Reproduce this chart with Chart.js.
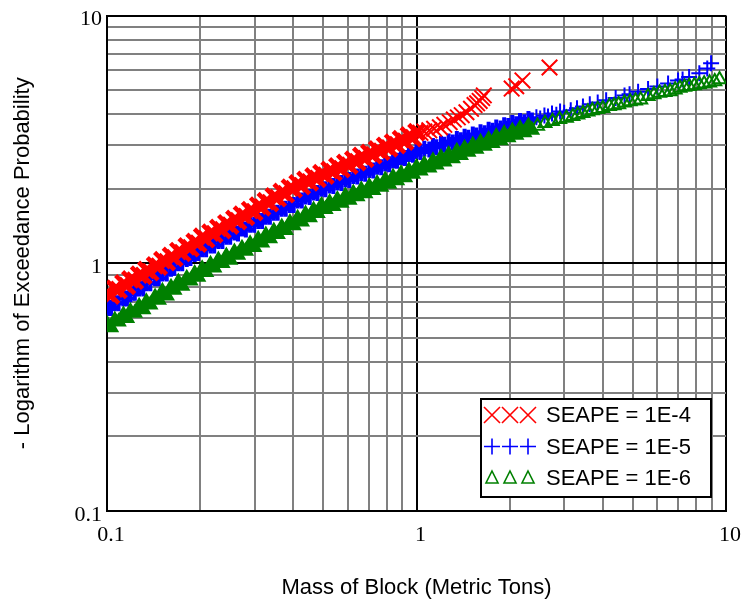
<!DOCTYPE html>
<html>
<head>
<meta charset="utf-8">
<script src="https://cdn.jsdelivr.net/npm/chart.js@4/dist/chart.umd.min.js"></script>
<style>
  body { margin: 0; background: #fff; }
  canvas { display: block; }
</style>
</head>
<body>
<canvas id="myChart" width="743" height="602"></canvas>
<script>
// block mass (metric tons), dense part shared by all three curves
const lowMass = [0.100, 0.103, 0.106, 0.109, 0.113, 0.116, 0.119, 0.123, 0.127, 0.131,
    0.134, 0.138, 0.143, 0.147, 0.151, 0.156, 0.161, 0.165, 0.170, 0.175,
    0.181, 0.186, 0.192, 0.197, 0.203, 0.209, 0.216, 0.222, 0.229, 0.236,
    0.243, 0.250, 0.258, 0.265, 0.273, 0.281, 0.290, 0.299, 0.308, 0.317,
    0.326, 0.336, 0.346, 0.356, 0.367, 0.378, 0.390, 0.401, 0.413, 0.426,
    0.438, 0.452, 0.465, 0.479, 0.493, 0.508, 0.524, 0.539, 0.555, 0.572,
    0.589, 0.607, 0.625, 0.644, 0.663, 0.683, 0.704, 0.725, 0.746, 0.769,
    0.792, 0.816, 0.840, 0.865, 0.891, 0.918, 0.945, 0.974, 1.00];
// block mass between 1 and 2.4 t, shared by the 1E-5 and 1E-6 curves
const midMass = [1.03, 1.06, 1.10, 1.13, 1.16, 1.20, 1.23, 1.27, 1.31, 1.35,
    1.39, 1.43, 1.47, 1.52, 1.56, 1.61, 1.66, 1.71, 1.76, 1.81,
    1.87, 1.92, 1.98, 2.04, 2.10, 2.16, 2.23, 2.30, 2.36];

// SEAPE = 1E-4
const redTailMass = [1.03, 1.06, 1.10, 1.14, 1.19, 1.23, 1.28, 1.32, 1.36, 1.40,
    1.45, 1.50, 1.54, 1.57, 1.60, 1.63, 1.65, 2.03, 2.10, 2.20, 2.69];
const redLogProb = [0.76, 0.74, 0.79, 0.78, 0.83, 0.81, 0.86, 0.85, 0.90, 0.89,
    0.94, 0.92, 0.98, 0.97, 1.03, 1.01, 1.07, 1.05, 1.12, 1.10,
    1.17, 1.15, 1.22, 1.20, 1.28, 1.25, 1.33, 1.31, 1.39, 1.36,
    1.45, 1.42, 1.51, 1.48, 1.57, 1.54, 1.64, 1.61, 1.71, 1.68,
    1.78, 1.75, 1.86, 1.83, 1.94, 1.90, 2.02, 1.99, 2.10, 2.05,
    2.17, 2.12, 2.24, 2.19, 2.31, 2.26, 2.38, 2.33, 2.46, 2.40,
    2.54, 2.48, 2.62, 2.56, 2.71, 2.64, 2.79, 2.73, 2.88, 2.82,
    2.98, 2.91, 3.07, 3.00, 3.17, 3.10, 3.28, 3.20, 3.38,
    3.36, 3.40, 3.44, 3.49, 3.54, 3.62, 3.71, 3.80, 3.88, 3.96,
    4.07, 4.20, 4.35, 4.42, 4.52, 4.64, 4.76, 5.07, 5.18, 5.47, 6.17];

// SEAPE = 1E-5
const blueTailMass = [2.44, 2.51, 2.59, 2.66, 2.74, 2.83, 2.91, 3.00,
    3.15, 3.30, 3.45, 3.63, 3.85, 4.10, 4.40, 4.70, 4.88, 5.20,
    5.60, 6.00, 6.50, 7.00, 7.24, 7.60, 8.20, 8.70, 8.95];
const blueLogProb = [0.66, 0.66, 0.69, 0.69, 0.72, 0.72, 0.75, 0.76, 0.79, 0.79,
    0.83, 0.83, 0.87, 0.87, 0.91, 0.91, 0.95, 0.96, 1.00, 1.00,
    1.04, 1.05, 1.09, 1.10, 1.14, 1.14, 1.18, 1.18, 1.23, 1.23,
    1.28, 1.28, 1.33, 1.32, 1.38, 1.37, 1.43, 1.43, 1.48, 1.48,
    1.54, 1.54, 1.60, 1.60, 1.66, 1.66, 1.72, 1.72, 1.79, 1.79,
    1.86, 1.85, 1.93, 1.92, 2.00, 1.99, 2.06, 2.05, 2.12, 2.11,
    2.18, 2.17, 2.25, 2.24, 2.31, 2.30, 2.38, 2.37, 2.45, 2.44,
    2.53, 2.51, 2.60, 2.59, 2.68, 2.66, 2.76, 2.74, 2.84,
    2.81, 2.90, 2.88, 2.97, 2.94, 3.03, 3.01, 3.10, 3.07, 3.17,
    3.14, 3.24, 3.21, 3.31, 3.28, 3.38, 3.35, 3.46, 3.43, 3.53,
    3.50, 3.61, 3.58, 3.68, 3.64, 3.75, 3.71, 3.82, 3.77,
    3.88, 3.84, 3.95, 3.91, 4.02, 3.98, 4.10, 4.05,
    4.15, 4.22, 4.29, 4.38, 4.46, 4.55, 4.65, 4.75, 4.81, 4.92,
    5.05, 5.17, 5.32, 5.46, 5.52, 5.65, 5.85, 6.11, 6.41];

// SEAPE = 1E-6
const greenTailMass = [2.46, 2.60, 2.75, 2.90, 3.05, 3.20, 3.32, 3.45, 3.58, 3.70,
    3.85, 4.00, 4.20, 4.35, 4.50, 4.70, 4.90, 5.10, 5.30, 5.60,
    5.85, 6.10, 6.35, 6.60, 6.85, 7.10, 7.35, 7.60, 7.90, 8.20,
    8.50, 8.85, 9.20, 9.53];
const greenLogProb = [0.57, 0.55, 0.59, 0.58, 0.62, 0.60, 0.64, 0.63, 0.67, 0.65,
    0.70, 0.68, 0.73, 0.71, 0.77, 0.74, 0.80, 0.78, 0.84, 0.81,
    0.87, 0.85, 0.91, 0.88, 0.95, 0.92, 0.99, 0.96, 1.03, 1.00,
    1.07, 1.03, 1.11, 1.08, 1.15, 1.12, 1.20, 1.16, 1.25, 1.21,
    1.30, 1.26, 1.35, 1.31, 1.40, 1.36, 1.46, 1.42, 1.52, 1.47,
    1.58, 1.53, 1.64, 1.59, 1.71, 1.65, 1.76, 1.70, 1.81, 1.75,
    1.87, 1.80, 1.92, 1.86, 1.98, 1.91, 2.04, 1.97, 2.10, 2.03,
    2.17, 2.09, 2.23, 2.16, 2.30, 2.22, 2.37, 2.29, 2.44,
    2.36, 2.51, 2.43, 2.59, 2.50, 2.67, 2.57, 2.75, 2.65, 2.83,
    2.73, 2.91, 2.81, 3.00, 2.89, 3.08, 2.97, 3.16, 3.05, 3.25,
    3.13, 3.34, 3.22, 3.42, 3.29, 3.50, 3.37, 3.58, 3.45,
    3.58, 3.67, 3.74, 3.81, 3.86, 3.92, 3.98, 4.03, 4.09, 4.14,
    4.18, 4.22, 4.30, 4.33, 4.37, 4.44, 4.50, 4.53, 4.57, 4.72,
    4.80, 4.87, 4.90, 4.94, 5.02, 5.10, 5.14, 5.18, 5.22, 5.27,
    5.30, 5.35, 5.42, 5.52];

const seriesNames = ['SEAPE = 1E-4', 'SEAPE = 1E-5', 'SEAPE = 1E-6'];
// below these masses the samples are packed so tightly the markers merge
const redDenseLimit = 1.01;
const denseLimit = 2.4;

// grid lines and labels for both log axes
const gridValues = [0.1, 0.2, 0.3, 0.4, 0.5, 0.6, 0.7, 0.8, 0.9,
    1, 2, 3, 4, 5, 6, 7, 8, 9, 10];
const decadeValues = [0.1, 1, 10];
const decadeLabels = ['0.1', '1', '10'];

function toPoints(xs, ys) {
    return xs.map((x, i) => ({x: x, y: ys[i]}));
}

function isDecade(v) {
    return decadeValues.some(d => Math.abs(d - v) < 1e-9);
}

function decadeLabel(v) {
    const i = decadeValues.findIndex(d => Math.abs(d - v) < 1e-9);
    return i >= 0 ? decadeLabels[i] : '';
}

function inDense(ctx, limit) {
    return ctx.raw && ctx.raw.x < limit;
}

const serif = {family: "'Liberation Serif', 'Times New Roman', serif", size: 22};
const sans = {family: "'Liberation Sans', Arial, sans-serif", size: 22};

function axis(title, isX) {
    return {
        type: 'logarithmic',
        min: 0.1,
        max: 10,
        afterBuildTicks: (scale) => {
            scale.ticks = gridValues.map(v => ({value: v}));
        },
        afterFit: (scale) => {
            if (isX) scale.height = 91; else scale.width = 107;
        },
        grid: {
            color: (ctx) => isDecade(ctx.tick.value) ? '#000000' : '#808080',
            lineWidth: 2,
            drawTicks: true,
            tickLength: isX ? 11 : 5,
            tickColor: 'rgba(0,0,0,0)'
        },
        border: {color: '#000000', width: 2},
        ticks: {
            autoSkip: false,
            maxRotation: 0,
            color: '#000000',
            font: serif,
            padding: 0,
            labelOffset: 4,
            callback: (v) => decadeLabel(v)
        },
        title: {
            display: true,
            text: title,
            color: '#000000',
            font: sans,
            padding: isX ? {top: 0, bottom: 1} : {top: 10, bottom: 0}
        }
    };
}

// legend drawn inside the plot, lower right
const legendMarks = [
    {style: 'x', color: '#ff0000'},
    {style: 'plus', color: '#0000ff'},
    {style: 'tri', color: '#008000'}
];

function drawMark(ctx, style, x, y) {
    ctx.beginPath();
    if (style === 'x') {
        ctx.moveTo(x - 8, y - 8); ctx.lineTo(x + 8, y + 8);
        ctx.moveTo(x + 8, y - 8); ctx.lineTo(x - 8, y + 8);
    } else if (style === 'plus') {
        ctx.moveTo(x - 8, y); ctx.lineTo(x + 8, y);
        ctx.moveTo(x, y - 8); ctx.lineTo(x, y + 8);
    } else {
        ctx.moveTo(x, y - 7); ctx.lineTo(x + 6, y + 5); ctx.lineTo(x - 6, y + 5);
        ctx.closePath();
    }
    ctx.stroke();
}

const legendBox = {
    id: 'legendBox',
    afterDraw(chart) {
        const {ctx, chartArea} = chart;
        const left = chartArea.right - 245;
        const top = chartArea.bottom - 112;
        ctx.save();
        ctx.fillStyle = '#ffffff';
        ctx.fillRect(left, top, 230, 98);
        ctx.strokeStyle = '#000000';
        ctx.lineWidth = 2;
        ctx.strokeRect(left, top, 230, 98);
        seriesNames.forEach((name, i) => {
            const cy = top + 16 + i * 31.5;
            ctx.strokeStyle = legendMarks[i].color;
            ctx.lineWidth = 1.6;
            for (let k = 0; k < 3; k++) drawMark(ctx, legendMarks[i].style, left + 11 + k * 18, cy);
            ctx.fillStyle = '#000000';
            ctx.font = "22px 'Liberation Sans', Arial, sans-serif";
            ctx.textBaseline = 'middle';
            ctx.textAlign = 'left';
            ctx.fillText(name, left + 65, cy + 1);
        });
        ctx.restore();
    }
};

const chart = new Chart(document.getElementById('myChart'), {
    type: 'scatter',
    data: {
        datasets: [
            {
                label: seriesNames[0],
                data: toPoints(lowMass.concat(redTailMass), redLogProb),
                pointStyle: 'crossRot',
                pointRadius: 11,
                pointBorderWidth: (ctx) => inDense(ctx, redDenseLimit) ? 4.5 : 2,
                pointBorderColor: '#ff0000',
                pointBackgroundColor: '#ff0000',
                order: 1
            },
            {
                label: seriesNames[1],
                data: toPoints(lowMass.concat(midMass, blueTailMass), blueLogProb),
                pointStyle: 'cross',
                pointRadius: 8,
                pointBorderWidth: (ctx) => inDense(ctx, denseLimit) ? 4 : 2,
                pointBorderColor: '#0000ff',
                pointBackgroundColor: '#0000ff',
                order: 3
            },
            {
                label: seriesNames[2],
                data: toPoints(lowMass.concat(midMass, greenTailMass), greenLogProb),
                pointStyle: 'triangle',
                pointRadius: 7.5,
                pointBorderWidth: 2,
                pointBorderColor: '#008000',
                pointBackgroundColor: (ctx) => inDense(ctx, denseLimit) ? '#008000' : 'rgba(0,0,0,0)',
                order: 2
            }
        ]
    },
    options: {
        responsive: false,
        animation: false,
        layout: {padding: {top: 15, right: 17, bottom: 0, left: 0}},
        plugins: {
            legend: {display: false},
            tooltip: {enabled: false}
        },
        scales: {
            x: axis('Mass of Block (Metric Tons)', true),
            y: axis('- Logarithm of Exceedance Probability', false)
        }
    },
    plugins: [legendBox]
});
</script>
</body>
</html>
